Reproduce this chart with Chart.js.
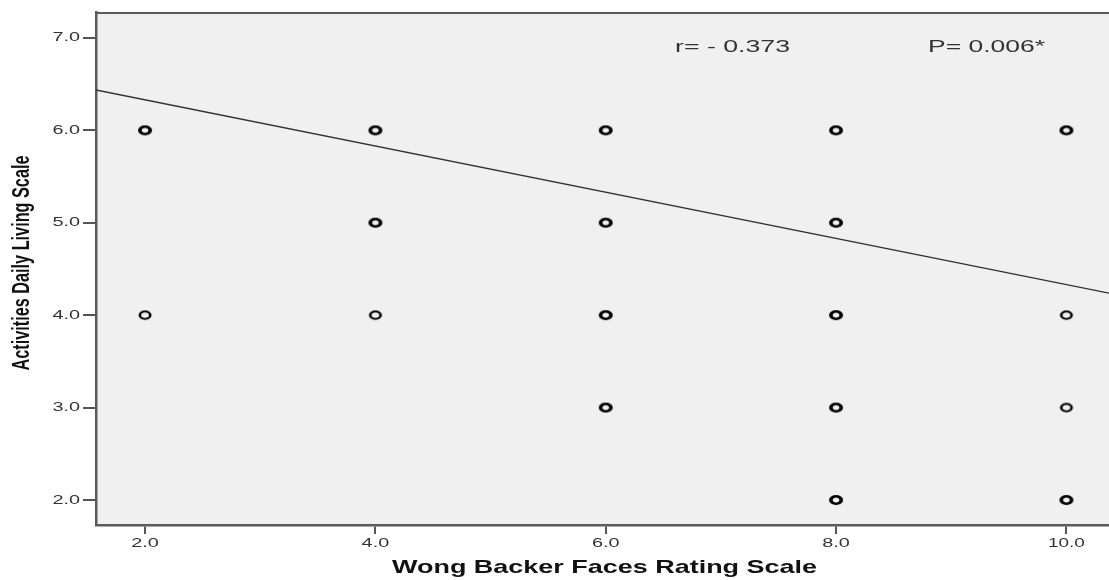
<!DOCTYPE html>
<html>
<head>
<meta charset="utf-8">
<script src="https://cdn.jsdelivr.net/npm/chart.js@4.4.1/dist/chart.umd.min.js"></script>
<style>
  html, body { margin: 0; padding: 0; background: #fff; }
  #wrap { width: 1109px; height: 580px; }
</style>
</head>
<body>
<div id="wrap"><canvas id="chart"></canvas></div>
<script>
// scores (x = Wong Backer, y = ADL)
const painScores = [2, 2, 4, 4, 4, 6, 6, 6, 6, 8, 8, 8, 8, 8, 10, 10, 10, 10];
const adlScores  = [6, 4, 6, 5, 4, 6, 5, 4, 3, 6, 5, 4, 3, 2, 6, 4, 3, 2];
// points drawn heavier in the picture (several cases on top of each other)
const heavy      = [1, 0, 1, 1, 0, 1, 1, 1, 1, 1, 1, 1, 1, 1, 1, 0, 0, 1];

const xTicks = [2, 4, 6, 8, 10];
const yTicks = [2, 3, 4, 5, 6, 7];

// fit line, estimated from the drawn line
const fitIntercept = 6.83;
const fitSlope = -0.25;

const xMin = 1.574, xMax = 10.37;
const yMin = 1.73, yMax = 7.28;

const rText = "r= - 0.373";
const pText = "P= 0.006*";
const xTitle = "Wong Backer Faces Rating Scale";
const yTitle = "Activities Daily Living Scale";

let points = painScores.map((x, i) => ({ x: x, y: adlScores[i] }));
let fitLine = [xMin, xMax].map(x => ({ x: x, y: fitIntercept + fitSlope * x }));

// the original picture is stretched sideways, so markers are flat ovals
function ovalMarker(lw) {
    const c = document.createElement("canvas");
    c.width = 20; c.height = 14;
    const g = c.getContext("2d");
    g.translate(10, 7);
    g.scale(1.4, 1);
    g.strokeStyle = "#000";
    g.lineWidth = lw;
    g.beginPath();
    g.arc(0, 0, 3.7, 0, Math.PI * 2);
    g.stroke();
    return c;
}
const heavyMark = ovalMarker(2.6);
const thinMark = ovalMarker(1.9);

const SANS = "'Liberation Sans', Arial, sans-serif";

// text squeezed/stretched to a width, like the source image
function wideText(ctx, txt, x, y, font, align, width) {
    ctx.save();
    ctx.font = font;
    const w = ctx.measureText(txt).width;
    ctx.translate(x, y);
    ctx.scale(width / w, 1);
    ctx.textAlign = align;
    ctx.fillText(txt, 0, 0);
    ctx.restore();
}

const frame = {
    id: "frame",
    beforeDraw(chart) {
        const ctx = chart.ctx, a = chart.chartArea;
        ctx.save();
        ctx.fillStyle = "#f0f0f0";
        ctx.fillRect(a.left, a.top, a.right - a.left, a.bottom - a.top);
        ctx.restore();
    },
    afterDraw(chart) {
        const ctx = chart.ctx, a = chart.chartArea;
        const xs = chart.scales.x, ys = chart.scales.y;
        ctx.save();
        // top border
        ctx.strokeStyle = "#5a5a5a";
        ctx.lineWidth = 2;
        ctx.beginPath();
        ctx.moveTo(a.left - 1, a.top + 1);
        ctx.lineTo(a.right, a.top + 1);
        ctx.stroke();

        ctx.textBaseline = "middle";
        ctx.fillStyle = "#333";
        // tick labels
        xTicks.forEach(v => {
            const s = v.toFixed(1);
            wideText(ctx, s, xs.getPixelForValue(v), 543, "13px " + SANS, "center", s.length * 9.2);
        });
        yTicks.forEach(v => {
            const s = v.toFixed(1);
            wideText(ctx, s, 80, ys.getPixelForValue(v), "13px " + SANS, "right", s.length * 9.2);
        });

        // r and P
        wideText(ctx, rText, 675, ys.getPixelForValue(6.89), "16px " + SANS, "left", 115);
        wideText(ctx, pText, 928, ys.getPixelForValue(6.89), "16px " + SANS, "left", 117);

        // x title
        ctx.fillStyle = "#111";
        wideText(ctx, xTitle, 604.5, 568, "bold 18.5px " + SANS, "center", 425);

        // y title, rotated; glyph height is the stretched direction
        ctx.translate(23, 263);
        ctx.rotate(-Math.PI / 2);
        ctx.font = "bold 16px " + SANS;
        const w = ctx.measureText(yTitle).width;
        ctx.scale(215 / w, 1.45);
        ctx.textAlign = "center";
        ctx.fillText(yTitle, 0, 0);
        ctx.restore();
    }
};

new Chart(document.getElementById("chart"), {
    type: "scatter",
    data: {
        datasets: [{
            label: "cases",
            data: points,
            pointStyle: heavy.map(h => h ? heavyMark : thinMark),
            pointRadius: 5,
            pointHoverRadius: 5
        }, {
            label: "fit",
            type: "line",
            data: fitLine,
            borderColor: "#333",
            borderWidth: 1.3,
            pointRadius: 0,
            fill: false
        }]
    },
    options: {
        responsive: true,
        maintainAspectRatio: false,
        animation: false,
        layout: { autoPadding: false, padding: { top: 12, right: 0, left: 0, bottom: 0 } },
        plugins: { legend: { display: false }, tooltip: { enabled: false } },
        scales: {
            x: {
                type: "linear",
                min: xMin,
                max: xMax,
                afterBuildTicks: s => { s.ticks = xTicks.map(v => ({ value: v })); },
                afterFit: s => { s.height = 55; s.paddingLeft = 0; s.paddingRight = 0; },
                grid: { display: true, drawOnChartArea: false, drawTicks: true, tickLength: 9, color: "#555", lineWidth: 2 },
                border: { display: true, color: "#5a5a5a", width: 2.5 },
                ticks: { display: false }
            },
            y: {
                type: "linear",
                min: yMin,
                max: yMax,
                afterBuildTicks: s => { s.ticks = yTicks.map(v => ({ value: v })); },
                afterFit: s => { s.width = 96; s.paddingTop = 0; s.paddingBottom = 0; },
                grid: { display: true, drawOnChartArea: false, drawTicks: true, tickLength: 13, color: "#555", lineWidth: 2 },
                border: { display: true, color: "#5a5a5a", width: 2.5 },
                ticks: { display: false }
            }
        }
    },
    plugins: [frame]
});
</script>
</body>
</html>
